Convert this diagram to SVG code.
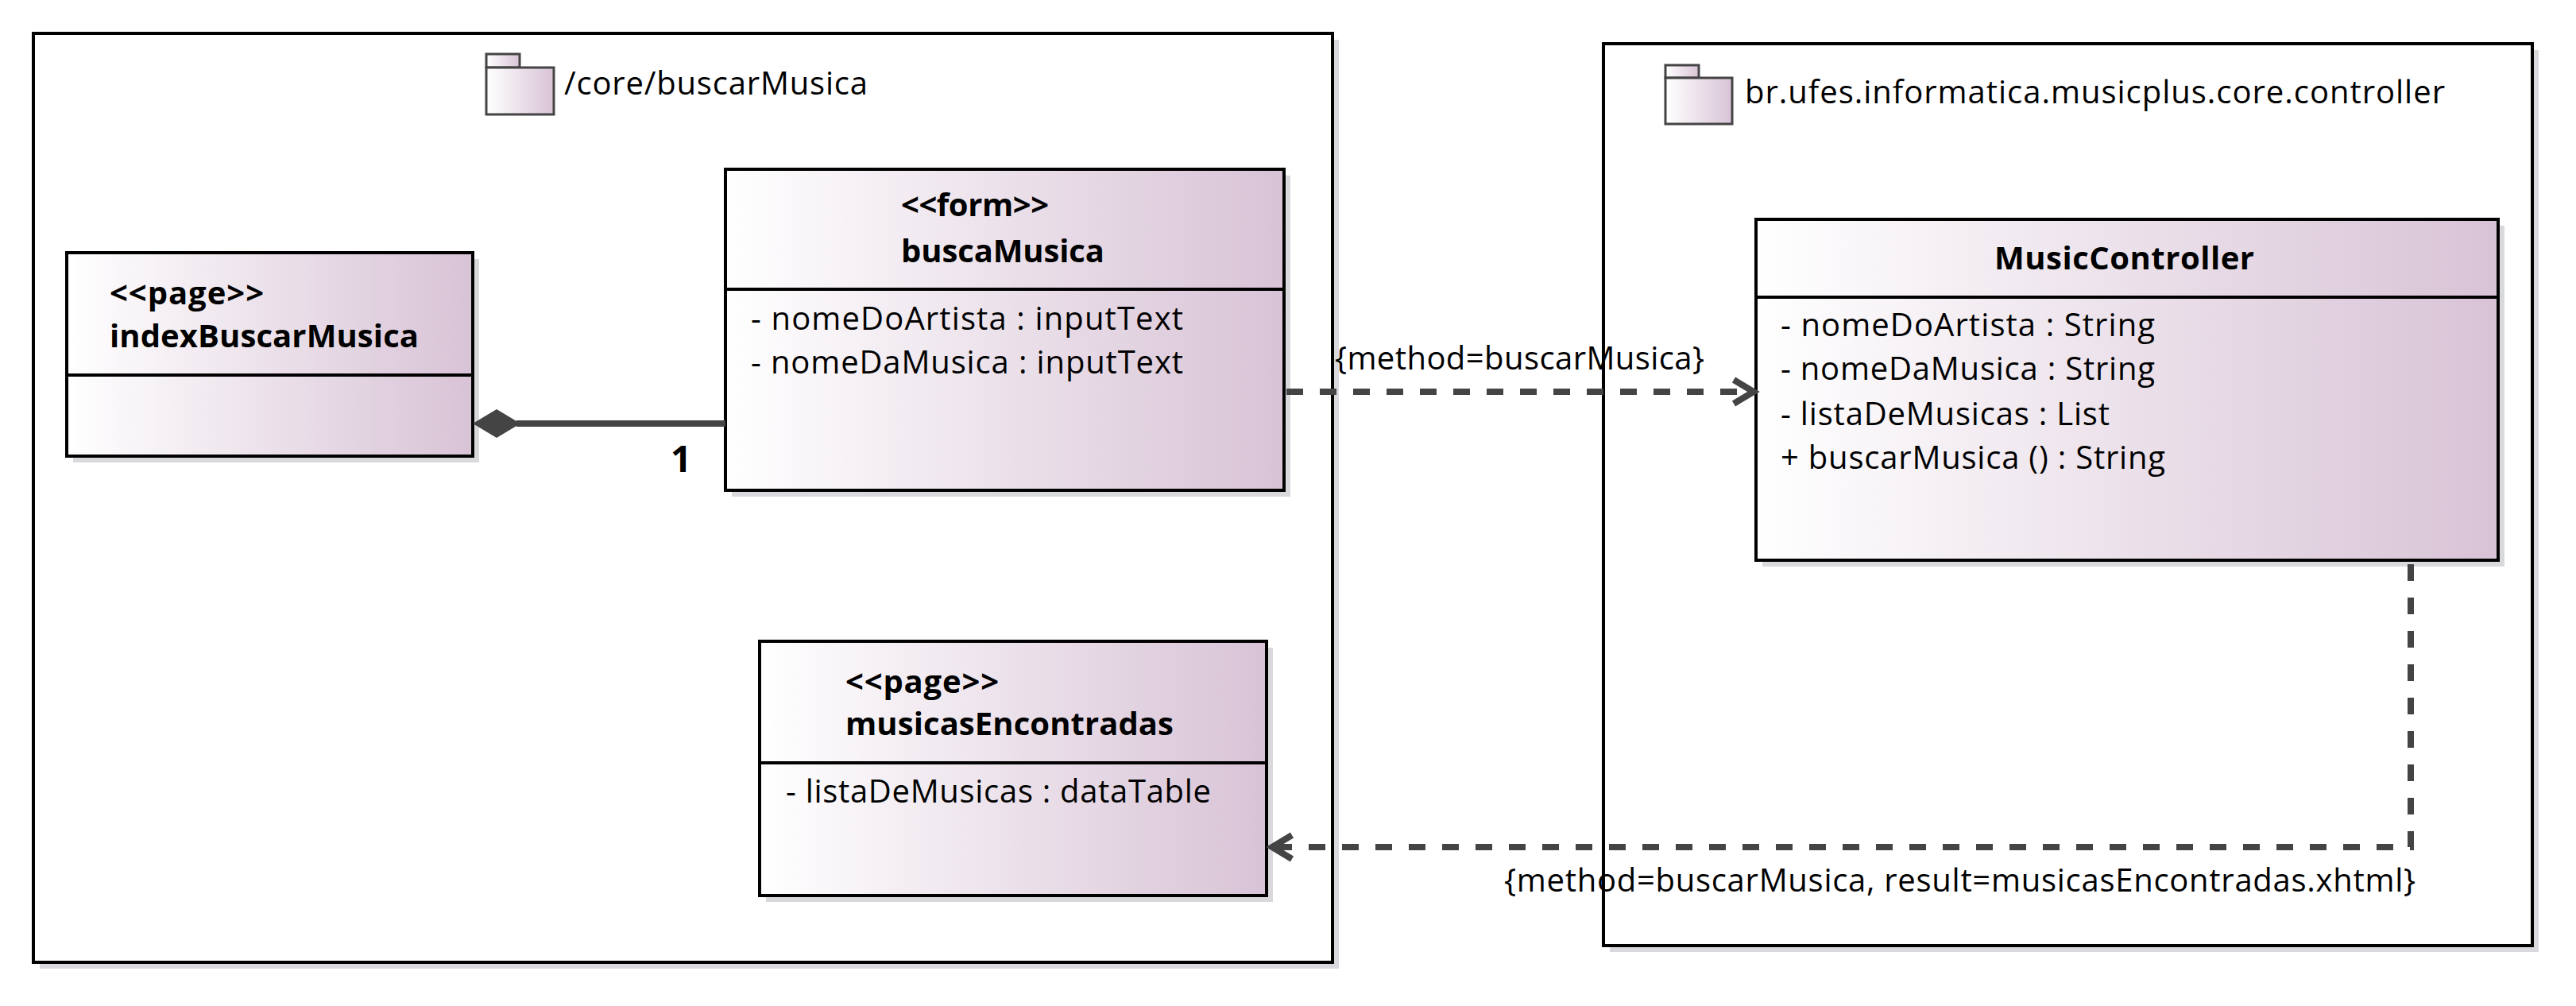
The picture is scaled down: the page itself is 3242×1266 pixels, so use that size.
<svg xmlns="http://www.w3.org/2000/svg" width="3242" height="1266" viewBox="0 0 3242 1266">
<style>
.pkg{fill:#ffffff;stroke:#000;stroke-width:4}
.cls{fill:url(#g);stroke:#000;stroke-width:4}
.sh{fill:#d9d9dd}
.sep{stroke:#000;stroke-width:4}
.icon{fill:url(#g);stroke:#444;stroke-width:3}
.t{font-family:"Open Sans","DejaVu Sans",sans-serif;font-size:40px;fill:#000}
.b{font-weight:bold}
.dash{fill:none;stroke:#444;stroke-width:8;stroke-dasharray:21 21}
.arr{fill:none;stroke:#444;stroke-width:8;stroke-linejoin:miter}
</style>
<defs>
<linearGradient id="g" x1="0" y1="0" x2="1" y2="0">
<stop offset="0" stop-color="#ffffff"/>
<stop offset="1" stop-color="#d8c3d6"/>
</linearGradient>
</defs>
<rect width="3242" height="1266" fill="#ffffff"/>

<g id="pkg-core-buscarMusica">
<rect class="sh" x="50" y="50" width="1635" height="1169"/>
<rect class="pkg" x="42" y="42" width="1635" height="1169"/>
<rect class="icon" x="612" y="68" width="42" height="17"/>
<rect class="icon" x="612" y="85" width="85" height="59"/>
<text class="t" x="710" y="119" textLength="382">/core/buscarMusica</text>
</g>

<g id="pkg-controller">
<rect class="sh" x="2026" y="63" width="1169" height="1135"/>
<rect class="pkg" x="2018" y="55" width="1169" height="1135"/>
<rect class="icon" x="2096" y="82" width="42" height="16"/>
<rect class="icon" x="2096" y="98" width="84" height="58"/>
<text class="t" x="2196" y="130" textLength="881">br.ufes.informatica.musicplus.core.controller</text>
</g>

<g id="indexBuscarMusica">
<rect class="sh" x="92" y="326" width="511" height="256"/>
<rect class="cls" x="84" y="318" width="511" height="256"/>
<line class="sep" x1="84" y1="472" x2="595" y2="472"/>
<text class="t b" x="138" y="383" textLength="194">&lt;&lt;page&gt;&gt;</text>
<text class="t b" x="138" y="437" textLength="389">indexBuscarMusica</text>
</g>

<g id="buscaMusica">
<rect class="sh" x="921" y="221" width="703" height="404"/>
<rect class="cls" x="913" y="213" width="703" height="404"/>
<line class="sep" x1="913" y1="364" x2="1616" y2="364"/>
<text class="t b" x="1134" y="272" textLength="186">&lt;&lt;form&gt;&gt;</text>
<text class="t b" x="1134" y="330" textLength="256">buscaMusica</text>
<text class="t" x="945" y="415" textLength="544">- nomeDoArtista : inputText</text>
<text class="t" x="945" y="470" textLength="544">- nomeDaMusica : inputText</text>
</g>

<g id="musicasEncontradas">
<rect class="sh" x="964" y="815" width="638" height="320"/>
<rect class="cls" x="956" y="807" width="638" height="320"/>
<line class="sep" x1="956" y1="960" x2="1594" y2="960"/>
<text class="t b" x="1064" y="872" textLength="193">&lt;&lt;page&gt;&gt;</text>
<text class="t b" x="1064" y="925" textLength="413">musicasEncontradas</text>
<text class="t" x="989" y="1010" textLength="535">- listaDeMusicas : dataTable</text>
</g>

<g id="MusicController">
<rect class="sh" x="2218" y="284" width="934" height="429"/>
<rect class="cls" x="2210" y="276" width="934" height="429"/>
<line class="sep" x1="2210" y1="374" x2="3144" y2="374"/>
<text class="t b" x="2510" y="339" textLength="327">MusicController</text>
<text class="t" x="2241" y="423" textLength="471">- nomeDoArtista : String</text>
<text class="t" x="2241" y="478" textLength="471">- nomeDaMusica : String</text>
<text class="t" x="2241" y="535" textLength="414">- listaDeMusicas : List</text>
<text class="t" x="2241" y="590" textLength="484">+ buscarMusica () : String</text>
</g>

<g id="connectors">
<g id="composition">
<line x1="650" y1="533" x2="913" y2="533" stroke="#444" stroke-width="8"/>
<polygon points="595,533 625,515 655,533 625,551" fill="#444"/>
<text class="t b" x="844" y="594" style="font-size:46px">1</text>
</g>
<g id="dep-buscar">
<path class="dash" d="M1619,493 L2204,493"/>
<polyline class="arr" points="2182,478 2207,493 2182,508"/>
<text class="t" x="1680" y="465" textLength="465">{method=buscarMusica}</text>
</g>
<g id="dep-result">
<path class="dash" d="M3034,710 L3034,1066 L1604,1066"/>
<polyline class="arr" points="1626,1051 1601,1066 1626,1081"/>
<text class="t" x="1893" y="1122" textLength="1147">{method=buscarMusica, result=musicasEncontradas.xhtml}</text>
</g>
</g>
</svg>
